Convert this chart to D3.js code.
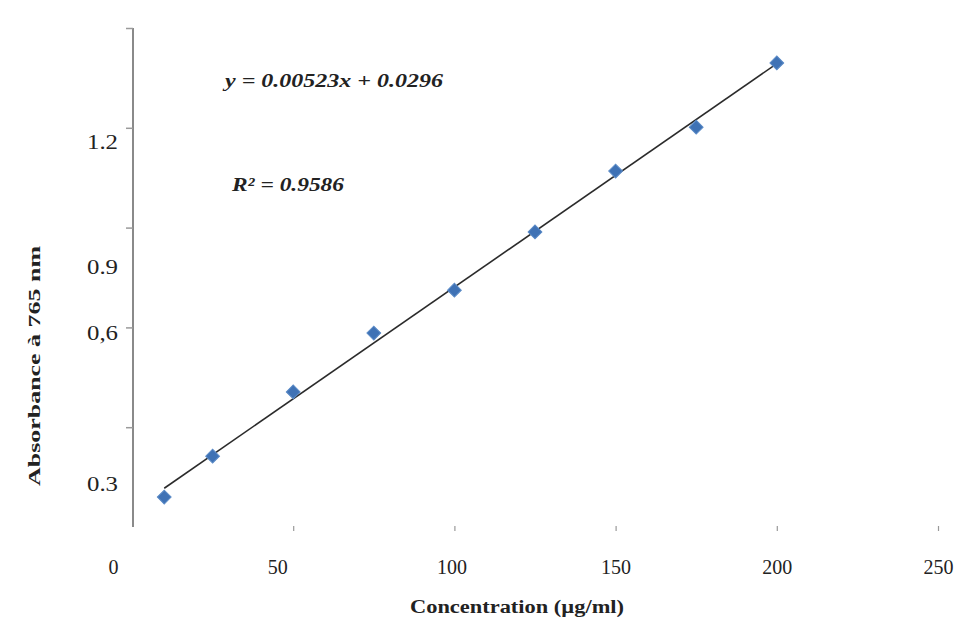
<!DOCTYPE html>
<html>
<head>
<meta charset="utf-8">
<script src="https://cdn.jsdelivr.net/npm/d3@7"></script>
<style>
  html, body { margin: 0; padding: 0; background: #ffffff; }
  svg { display: block; }
</style>
</head>
<body>
<div id="chart"></div>
<script>
// ---- data ----
const concentrations = [10, 25, 50, 75, 100, 125, 150, 175, 200];
const absorbances = [0.090, 0.213, 0.406, 0.583, 0.712, 0.887, 1.070, 1.202, 1.395];
const xTickValues = [0, 50, 100, 150, 200, 250];
const xTickLabels = ["0", "50", "100", "150", "200", "250"];
const yTickValues = [0.3, 0.6, 0.9, 1.2, 1.5];
const yTickLabels = ["0.3", "0,6", "0.9", "1.2", ""];
const equationText = "y = 0.00523x + 0.0296";
const r2Text = "R² = 0.9586";
const xTitle = "Concentration (µg/ml)";
const yTitle = "Absorbance à 765 nm";

// ---- layout ----
const W = 974, H = 628;
const plot = { left: 133, right: 938, top: 28, bottom: 527 };

const svg = d3.select("#chart").append("svg")
  .attr("width", W).attr("height", H)
  .style("font-family", "'Liberation Serif', 'Times New Roman', serif");

const x = d3.scaleLinear().domain([0, 250]).range([plot.left - 1, plot.right]);
const y = d3.scaleLinear().domain([0, 1.5]).range([plot.bottom, plot.top]);

// label nudges (scan layout)
const yLabelShift = { "0.3": 56, "0,6": 5, "0.9": 39, "1.2": 14 };
const xLabelShift = { "0": -19, "50": -16, "100": -3 };

// y axis
const yAxis = svg.append("g")
  .attr("transform", `translate(${plot.left},0)`)
  .call(d3.axisLeft(y).tickValues(yTickValues)
    .tickFormat((d, i) => yTickLabels[i]).tickSize(7).tickSizeOuter(0));
yAxis.select(".domain").attr("stroke", "#8a8a8a").attr("stroke-width", 2)
  .attr("d", `M0,${plot.top}V${plot.bottom}`);
yAxis.selectAll(".tick line").attr("stroke", "#9a9a9a").attr("stroke-width", 1.5);
yAxis.selectAll(".tick text")
  .attr("x", -15)
  .attr("dy", function() { const t = d3.select(this).text(); return (yLabelShift[t] || 0) + 7; })
  .attr("font-size", 20).attr("fill", "#222")
  .attr("textLength", 31).attr("lengthAdjust", "spacingAndGlyphs")
  .style("font-family", "'Liberation Serif', serif");

// x axis (ticks only)
const xAxis = svg.append("g")
  .attr("transform", `translate(0,${plot.bottom})`)
  .call(d3.axisBottom(x).tickValues(xTickValues)
    .tickFormat((d, i) => xTickLabels[i]).tickSize(4).tickSizeOuter(0));
xAxis.select(".domain").remove();
xAxis.selectAll(".tick line").attr("stroke", "#999").attr("stroke-width", 1.2)
  .attr("y1", -1).attr("y2", 4)
  .attr("opacity", d => d === 0 ? 0 : 1);
xAxis.selectAll(".tick text")
  .attr("y", 47).attr("dy", 0)
  .attr("dx", function() { const t = d3.select(this).text(); return xLabelShift[t] || 0; })
  .attr("font-size", 20).attr("fill", "#222")
  .style("font-family", "'Liberation Serif', serif");

// regression line (least squares of the data)
const n = concentrations.length;
const mx = d3.mean(concentrations), my = d3.mean(absorbances);
let sxy = 0, sxx = 0;
for (let i = 0; i < n; i++) {
  sxy += (concentrations[i] - mx) * (absorbances[i] - my);
  sxx += (concentrations[i] - mx) ** 2;
}
const slope = sxy / sxx, intercept = my - slope * mx;
const xMin = d3.min(concentrations), xMax = d3.max(concentrations);
svg.append("line")
  .attr("x1", x(xMin)).attr("y1", y(intercept + slope * xMin))
  .attr("x2", x(xMax)).attr("y2", y(intercept + slope * xMax))
  .attr("stroke", "#2b2b2b").attr("stroke-width", 1.6);

// markers
const diamond = d3.symbol().type(d3.symbolSquare).size(95);
svg.append("g").selectAll("path")
  .data(concentrations.map((c, i) => [c, absorbances[i]]))
  .join("path")
  .attr("d", diamond)
  .attr("transform", d => `translate(${x(d[0])},${y(d[1])}) rotate(45)`)
  .attr("fill", "#3f72b5")
  .attr("stroke", "#5a8ac6").attr("stroke-width", 1);

// equation and R²
svg.append("text")
  .attr("x", 225).attr("y", 87)
  .attr("font-size", 19).attr("font-weight", "bold").attr("font-style", "italic")
  .attr("fill", "#222")
  .attr("textLength", 218).attr("lengthAdjust", "spacingAndGlyphs")
  .text(equationText);
svg.append("text")
  .attr("x", 232).attr("y", 191)
  .attr("font-size", 19).attr("font-weight", "bold").attr("font-style", "italic")
  .attr("fill", "#222")
  .attr("textLength", 112).attr("lengthAdjust", "spacingAndGlyphs")
  .text(r2Text);

// axis titles
svg.append("text")
  .attr("x", 517).attr("y", 613)
  .attr("text-anchor", "middle")
  .attr("font-size", 18).attr("font-weight", "bold").attr("fill", "#222")
  .attr("textLength", 214).attr("lengthAdjust", "spacingAndGlyphs")
  .text(xTitle);
svg.append("text")
  .attr("transform", "translate(40,366) rotate(-90)")
  .attr("text-anchor", "middle")
  .attr("font-size", 16).attr("font-weight", "bold").attr("fill", "#222")
  .attr("textLength", 240).attr("lengthAdjust", "spacingAndGlyphs")
  .text(yTitle);
</script>
</body>
</html>
